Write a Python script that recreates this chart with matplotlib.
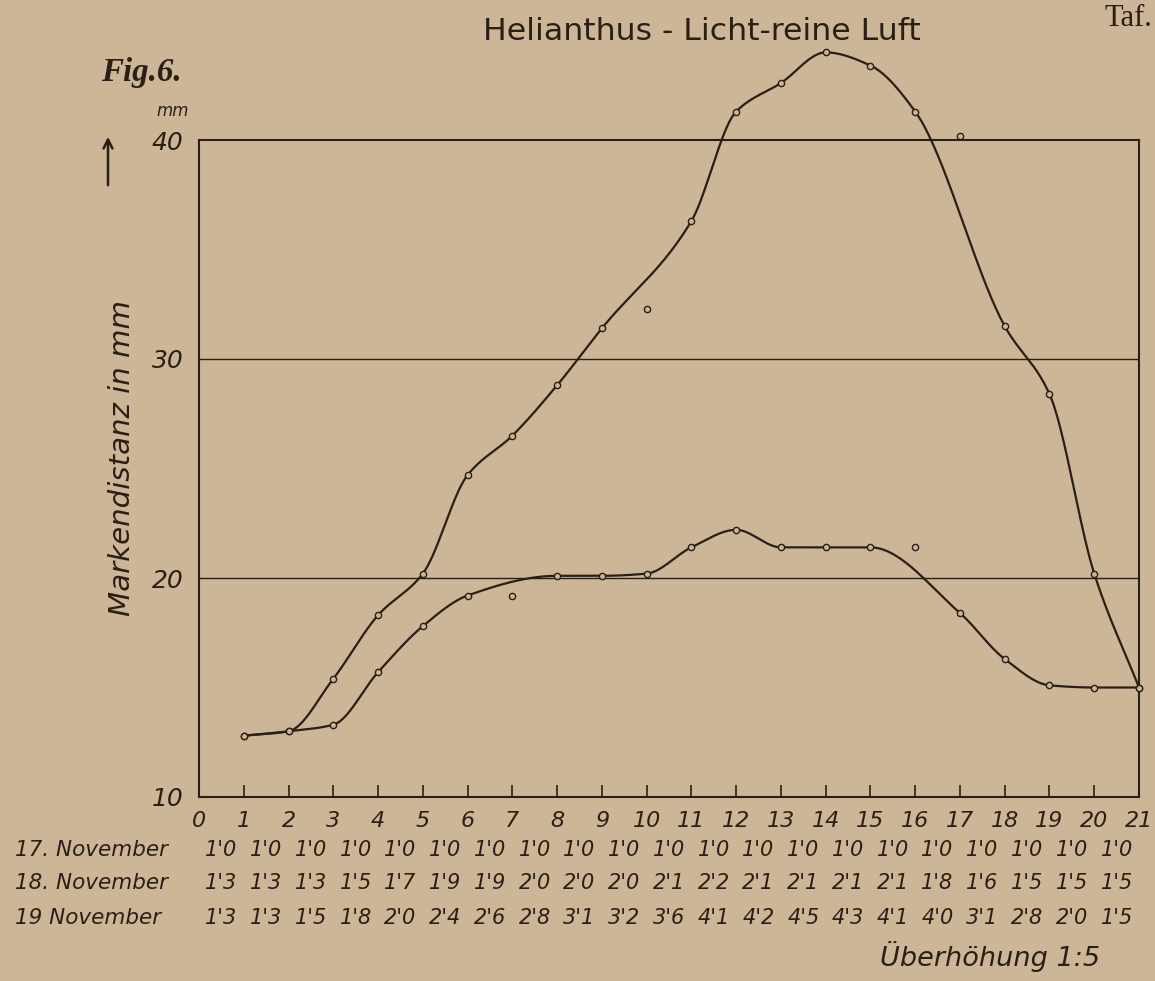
import numpy as np
import matplotlib
matplotlib.use('Agg')
import matplotlib.pyplot as plt
from matplotlib import font_manager, transforms
from matplotlib.patches import FancyArrowPatch

W, H = 1155, 981
BG = '#cdb597'
INK = '#2a1f17'

names = {f.name for f in font_manager.fontManager.ttflist}
SANS  = 'Liberation Sans Narrow' if 'Liberation Sans Narrow' in names else 'DejaVu Sans'
SERIF = 'Liberation Serif' if 'Liberation Serif' in names else 'DejaVu Serif'

# --- data -------------------------------------------------------------
steps       = list(range(1, 22))
tick_labels = [str(i) for i in range(22)]
row_labels  = ['17. November', '18. November', '19 November']

# table values printed under the chart
nov17 = [1.0, 1.0, 1.0, 1.0, 1.0, 1.0, 1.0, 1.0, 1.0, 1.0, 1.0,
         1.0, 1.0, 1.0, 1.0, 1.0, 1.0, 1.0, 1.0, 1.0, 1.0]
nov18 = [1.3, 1.3, 1.3, 1.5, 1.7, 1.9, 1.9, 2.0, 2.0, 2.0, 2.1,
         2.2, 2.1, 2.1, 2.1, 2.1, 1.8, 1.6, 1.5, 1.5, 1.5]
nov19 = [1.3, 1.3, 1.5, 1.8, 2.0, 2.4, 2.6, 2.8, 3.1, 3.2, 3.6,
         4.1, 4.2, 4.5, 4.3, 4.1, 4.0, 3.1, 2.8, 2.0, 1.5]

# points as drawn in the chart (Markendistanz, mm)
dist18 = [12.8, 13.0, 13.3, 15.7, 17.8, 19.2, 19.2, 20.1, 20.1, 20.2, 21.4,
          22.2, 21.4, 21.4, 21.4, 21.4, 18.4, 16.3, 15.1, 15.0, 15.0]
dist19 = [12.8, 13.0, 15.4, 18.3, 20.2, 24.7, 26.5, 28.8, 31.4, 32.3, 36.3,
          41.3, 42.6, 44.0, 43.4, 41.3, 40.2, 31.5, 28.4, 20.2, 15.0]
# points the hand-drawn curve does not pass through
off18 = [7, 16]
off19 = [10, 17]


def smooth(xs, ys, n=40):
    # monotone cubic (pchip-like) through the points, so no overshoot
    xs = np.asarray(xs, float)
    ys = np.asarray(ys, float)
    h = np.diff(xs)
    d = np.diff(ys) / h
    m = np.zeros_like(ys)
    m[0], m[-1] = d[0], d[-1]
    for k in range(1, len(xs) - 1):
        if d[k-1] * d[k] > 0:
            w1 = 2*h[k] + h[k-1]
            w2 = h[k] + 2*h[k-1]
            m[k] = (w1 + w2) / (w1/d[k-1] + w2/d[k])
    t = np.linspace(0, 1, n, endpoint=False)
    h00 = 2*t**3 - 3*t**2 + 1
    h10 = t**3 - 2*t**2 + t
    h01 = -2*t**3 + 3*t**2
    h11 = t**3 - t**2
    px, py = [], []
    for i in range(len(xs) - 1):
        px.append(xs[i] + t*h[i])
        py.append(h00*ys[i] + h10*h[i]*m[i] + h01*ys[i+1] + h11*h[i]*m[i+1])
    px.append([xs[-1]])
    py.append([ys[-1]])
    return np.concatenate(px), np.concatenate(py)


def fx(x):
    return x / W


def fy(y):
    return 1 - y / H


fig = plt.figure(figsize=(W/100, H/100), dpi=100)
fig.patch.set_facecolor(BG)
renderer = fig.canvas.get_renderer()


def fit(t, size_px, vertical=False):
    bb = t.get_window_extent(renderer)
    cur = bb.height if vertical else bb.width
    t.set_fontsize(t.get_fontsize() * size_px / cur)


ax = fig.add_axes([fx(199), fy(797), fx(1139 - 199), (797 - 140) / H])
ax.set_facecolor(BG)
ax.set_xlim(0, 21)
ax.set_ylim(10, 40)
for s in ax.spines.values():
    s.set_color(INK)
    s.set_linewidth(1.5)
for yv in (20, 30):
    ax.axhline(yv, color=INK, lw=1.0, zorder=1)

ax.set_xticks(range(22))
ax.set_xticklabels(tick_labels, fontfamily=SANS, fontstyle='italic', fontsize=16)
ax.set_yticks([10, 20, 30, 40])
ax.set_yticklabels(['10', '20', '30', '40'], fontfamily=SANS, fontstyle='italic', fontsize=18)
ax.tick_params(axis='x', direction='in', length=9, width=1.2, color=INK, labelcolor=INK, pad=10)
ax.tick_params(axis='y', length=0, labelcolor=INK, pad=11)

for dist, off in ((dist18, off18), (dist19, off19)):
    cx = [s for s in steps if s not in off]
    cy = [d for s, d in zip(steps, dist) if s not in off]
    sx, sy = smooth(cx, cy)
    ax.plot(sx, sy, color=INK, lw=1.6, clip_on=False, zorder=3)
    ax.plot(steps, dist, 'o', ms=4.5, mfc=BG, mec=INK, mew=1.0, clip_on=False, zorder=4)

# --- texts around the chart --------------------------------------------
t = fig.text(fx(702), fy(31), 'Helianthus - Licht-reine Luft', ha='center', va='center',
             color=INK, fontfamily=SANS, fontsize=20)
fit(t, 437)
fig.text(fx(1152), fy(18), 'Taf.', ha='right', va='center', color=INK,
         fontfamily=SERIF, fontsize=22)
t = fig.text(fx(101), fy(73), 'Fig.6.', ha='left', va='center', color=INK,
             fontfamily=SERIF, fontweight='bold', fontstyle='italic', fontsize=16)
fit(t, 81)
fig.text(fx(173), fy(111), 'mm', ha='center', va='center', color=INK,
         fontfamily=SANS, fontstyle='italic', fontsize=12)
fig.add_artist(FancyArrowPatch((fx(108), fy(188)), (fx(108), fy(134)),
                               transform=fig.transFigure, arrowstyle='->',
                               mutation_scale=16, color=INK, lw=1.8))
t = fig.text(fx(122), fy(458), 'Markendistanz in mm', ha='center', va='center',
             rotation=90, color=INK, fontfamily=SANS, fontstyle='italic', fontsize=18)
fit(t, 317, vertical=True)

# table below the axis
tr = transforms.blended_transform_factory(ax.transData, fig.transFigure)
row_y = [850, 883, 918]
size = None
for label, vals, ry in zip(row_labels, (nov17, nov18, nov19), row_y):
    t = fig.text(fx(15), fy(ry), label, ha='left', va='center', color=INK,
                 fontfamily=SANS, fontstyle='italic', fontsize=18)
    if size is None:
        fit(t, 153)
        size = t.get_fontsize()
    t.set_fontsize(size)
    for s, v in zip(steps, vals):
        ax.text(s - 0.5, fy(ry), f'{v:.1f}'.replace('.', "'"), transform=tr,
                ha='center', va='center', color=INK, fontfamily=SANS,
                fontstyle='italic', fontsize=15)

t = fig.text(fx(880), fy(957), 'Überhöhung 1:5', ha='left', va='center', color=INK,
             fontfamily=SANS, fontstyle='italic', fontsize=18)
fit(t, 220)

fig.savefig('out.png', dpi=100, facecolor=BG)
